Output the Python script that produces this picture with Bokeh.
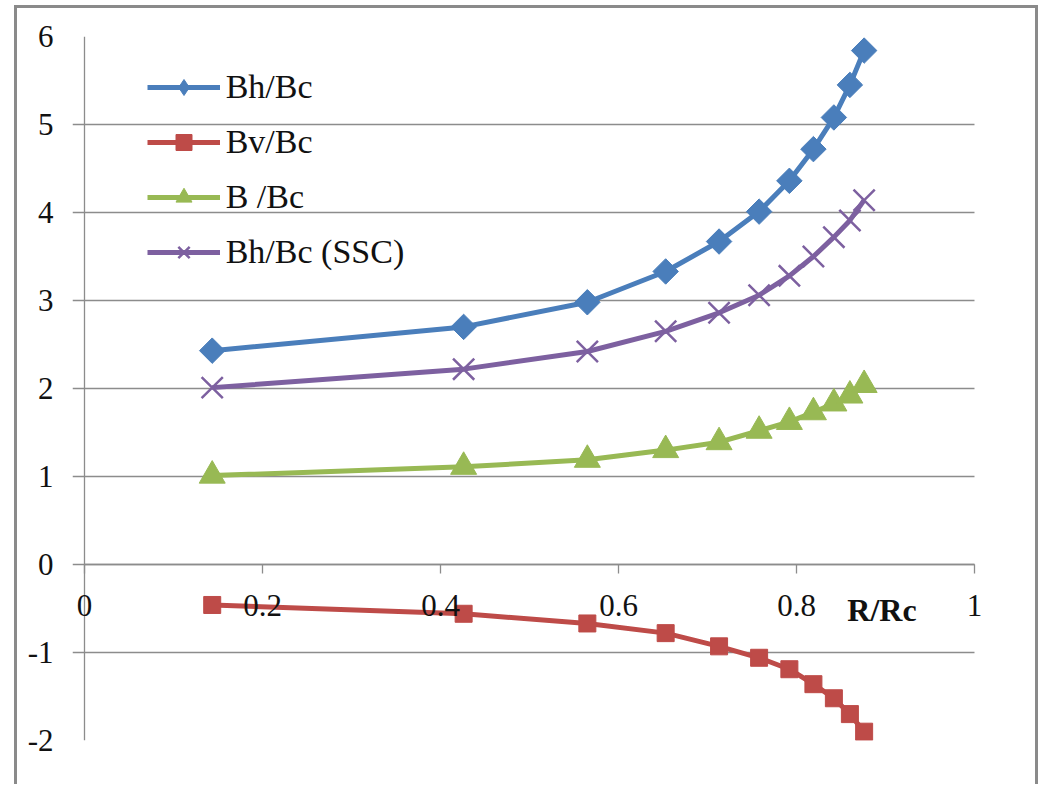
import math
from bokeh.plotting import figure
from bokeh.models import FixedTicker, Label, Legend, Span
from bokeh.embed import file_html
from bokeh.resources import INLINE

# ---- data ----
r_rc = [0.1435, 0.426, 0.565, 0.653, 0.713, 0.758, 0.792, 0.819, 0.842, 0.860, 0.876]
bh_bc = [2.43, 2.70, 2.98, 3.33, 3.67, 4.01, 4.36, 4.72, 5.08, 5.45, 5.84]
bv_bc = [-0.46, -0.56, -0.67, -0.78, -0.93, -1.06, -1.19, -1.36, -1.52, -1.70, -1.90]
b_bc = [1.01, 1.11, 1.19, 1.30, 1.39, 1.52, 1.62, 1.73, 1.83, 1.92, 2.04]
bh_bc_ssc = [2.01, 2.22, 2.42, 2.65, 2.86, 3.06, 3.28, 3.50, 3.72, 3.91, 4.14]

series_names = ["Bh/Bc", "Bv/Bc", "B /Bc", "Bh/Bc (SSC)"]
x_ticks = [0, 0.2, 0.4, 0.6, 0.8, 1]
y_ticks = [-2, -1, 0, 1, 2, 3, 4, 5, 6]
x_title = "R/Rc"

FONT = "Liberation Serif"
GRID = "#8c8c8c"
TICK_FONT_SIZE = "31px"

# x axis runs 0..1; the frame is padded a little on both sides so that the
# end tick labels are not clipped (the y tick marks are the grid's left stubs)
X0, X1 = 0.0, 1.0
PAD_L, PAD_R = 12 / 890, 20 / 890
Y0, Y1 = -2, 6

p = figure(width=1024, height=779, x_range=(X0 - PAD_L, X1 + PAD_R), y_range=(Y0, Y1),
           output_backend="svg", toolbar_location=None,
           min_border_left=55, min_border_right=47, min_border_top=28, min_border_bottom=47)
p.outline_line_color = None
p.background_fill_color = "white"
p.border_fill_color = "white"
p.styles = {"border-left": "3px solid #8a8a8a", "border-top": "3px solid #8a8a8a",
            "border-right": "3px solid #8a8a8a", "margin-left": "14px", "margin-top": "5px"}

# grid (horizontal lines), limited to x <= 1
p.xgrid.grid_line_color = None
p.ygrid.grid_line_color = GRID
p.ygrid.grid_line_width = 1.3
if "cross_bounds" in p.ygrid[0].properties():
    p.ygrid.cross_bounds = (X0 - PAD_L, X1)

# axes
p.xaxis.fixed_location = 0
p.xaxis.bounds = (X0, X1)
p.xaxis.ticker = FixedTicker(ticks=x_ticks)
p.yaxis.ticker = FixedTicker(ticks=y_ticks)
for ax in (p.xaxis[0], p.yaxis[0]):
    ax.axis_line_color = GRID
    ax.axis_line_width = 1.3
    ax.major_tick_line_color = GRID
    ax.major_tick_line_width = 1.3
    ax.minor_tick_line_color = None
    ax.major_label_text_font = FONT
    ax.major_label_text_font_size = TICK_FONT_SIZE
    ax.major_label_text_color = "#111111"
    ax.major_tick_in = 0
p.xaxis.major_tick_out = 9
p.xaxis.major_label_standoff = 21
p.xaxis.major_label_overrides = {0: "0", 1: "1"}
p.yaxis.axis_line_color = None
p.yaxis.major_tick_line_color = None
p.yaxis.major_tick_out = 0
p.yaxis.major_label_standoff = 19
p.yaxis.major_label_overrides = {-1: "-1", -2: "-2"}
# vertical axis line at x = 0
p.add_layout(Span(location=X0, dimension="height", line_color=GRID, line_width=1.3,
                  level="underlay"))

colors = ["#4a7ebb", "#be4b48", "#98b954", "#7d60a0"]

# Bh/Bc
l1 = p.line(r_rc, bh_bc, line_color=colors[0], line_width=5)
d1 = p.scatter(r_rc, bh_bc, marker="diamond", size=14,
               fill_color=colors[0], line_color=colors[0], line_width=1)
m1 = p.scatter(r_rc, bh_bc, marker="square", angle=math.pi / 4, size=18,
               fill_color=colors[0], line_color=colors[0], line_width=1)
# Bv/Bc
l2 = p.line(r_rc, bv_bc, line_color=colors[1], line_width=5)
m2 = p.scatter(r_rc, bv_bc, marker="square", size=17,
               fill_color=colors[1], line_color=colors[1], line_width=1)
# B/Bc
l3 = p.line(r_rc, b_bc, line_color=colors[2], line_width=5)
m3 = p.scatter(r_rc, b_bc, marker="triangle", size=26,
               fill_color=colors[2], line_color=colors[2], line_width=1)
# Bh/Bc (SSC)
l4 = p.line(r_rc, bh_bc_ssc, line_color=colors[3], line_width=5)
m4 = p.scatter(r_rc, bh_bc_ssc, marker="x", size=30,
               line_color=colors[3], line_width=2.5)

legend = Legend(items=[(series_names[0], [l1, d1]), (series_names[1], [l2, m2]),
                       (series_names[2], [l3, m3]), (series_names[3], [l4, m4])],
                location=(74.7, 468.4))
legend.background_fill_alpha = 0
legend.border_line_color = None
legend.padding = 0
legend.margin = 0
legend.spacing = 15
legend.glyph_width = 73
legend.glyph_height = 40
legend.label_height = 40
legend.label_standoff = 6
legend.label_text_font = FONT
legend.label_text_font_size = "34px"
legend.label_text_color = "#111111"
p.add_layout(legend, "center")

p.add_layout(Label(x=0.896, y=-0.52, text=x_title, text_font=FONT, text_font_size="32px",
                   text_font_style="bold", text_align="center", text_baseline="middle",
                   text_color="#111111"))

open("out.html", "w").write(file_html(p, INLINE))
